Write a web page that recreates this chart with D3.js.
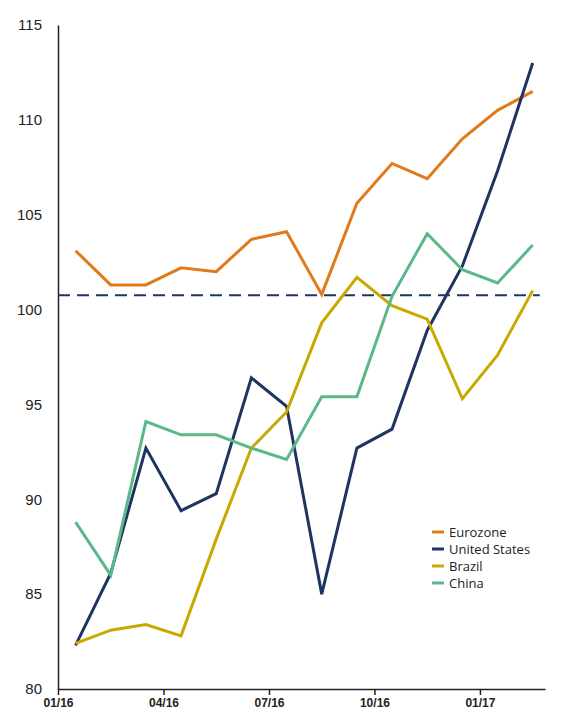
<!DOCTYPE html>
<html><head><meta charset="utf-8">
<script src="https://cdn.jsdelivr.net/npm/d3@7"></script>
<style>body{margin:0;background:#fff;font-family:"Open Sans",sans-serif}</style>
</head><body><div id="chart"></div>
<script>
const width = 569, height = 713;
const margin = {top: 25, right: 24, bottom: 24, left: 58};

// monthly points, Jan 2016 .. Feb 2017 (plotted mid-month)
const months = d3.range(14);
const eurozone = [103.1, 101.3, 101.3, 102.2, 102.0, 103.7, 104.1, 100.8, 105.6, 107.7, 106.9, 109.0, 110.5, 111.5];
const unitedStates = [82.3, 86.1, 92.7, 89.4, 90.3, 96.4, 94.9, 85.0, 92.7, 93.7, 98.9, 102.3, 107.3, 113.0];
const brazil = [82.4, 83.1, 83.4, 82.8, 87.9, 92.7, 94.6, 99.3, 101.7, 100.2, 99.5, 95.3, 97.6, 101.0];
const china = [88.8, 86.0, 94.1, 93.4, 93.4, 92.7, 92.1, 95.4, 95.4, 100.7, 104.0, 102.1, 101.4, 103.4];
const refLevel = 100.75;
const xTicks = [0, 3, 6, 9, 12];
const xTickLabels = ["01/16", "04/16", "07/16", "10/16", "01/17"];
const yTicks = [80, 85, 90, 95, 100, 105, 110, 115];

const series = [
  {name: "Eurozone", values: eurozone, color: "#e07b1a"},
  {name: "United States", values: unitedStates, color: "#1f3560"},
  {name: "Brazil", values: brazil, color: "#c9a800"},
  {name: "China", values: china, color: "#5cb88a"}
];

const svg = d3.select("#chart").append("svg").attr("width", width).attr("height", height);
const g = svg.append("g").attr("transform", `translate(${margin.left},${margin.top})`);
const w = width - margin.left - margin.right, h = height - margin.top - margin.bottom;

const x = d3.scaleLinear().domain([0, 13.85]).range([0, w]);
const y = d3.scaleLinear().domain([80, 115]).range([h, 0]);

g.append("g").attr("transform", `translate(0,${h})`)
  .call(d3.axisBottom(x).tickValues(xTicks).tickFormat((d, i) => xTickLabels[i]).tickSize(6).tickSizeOuter(0))
  .call(a => a.selectAll("text").attr("font-size", 12).attr("font-weight", "bold").attr("fill", "#222"))
  .call(a => a.selectAll("line,path").attr("stroke", "#222").attr("stroke-width", 1.5));

g.append("g")
  .call(d3.axisLeft(y).tickValues(yTicks).tickSize(0).tickPadding(16).tickSizeOuter(0))
  .call(a => a.selectAll("text").attr("font-size", 15).attr("fill", "#222"))
  .call(a => a.select("path").attr("stroke", "#222").attr("stroke-width", 1.5));

g.append("line").attr("x1", 0).attr("x2", x(13.7))
  .attr("y1", y(refLevel)).attr("y2", y(refLevel))
  .attr("stroke", "#1f3560").attr("stroke-width", 2).attr("stroke-dasharray", "12,7");

const line = d3.line().x((d, i) => x(months[i] + 0.5)).y(d => y(d));
series.forEach(s => {
  g.append("path").datum(s.values).attr("d", line)
    .attr("fill", "none").attr("stroke", s.color).attr("stroke-width", 3).attr("stroke-linejoin", "miter");
});

const legend = g.append("g").attr("transform", `translate(${432 - margin.left},${532 - margin.top})`);
series.forEach((s, i) => {
  const row = legend.append("g").attr("transform", `translate(0,${i * 17})`);
  row.append("line").attr("x1", 0).attr("x2", 12).attr("stroke", s.color).attr("stroke-width", 3);
  row.append("text").attr("x", 17).attr("dy", "0.35em").attr("font-size", 13).attr("fill", "#222").text(s.name);
});
</script></body></html>
